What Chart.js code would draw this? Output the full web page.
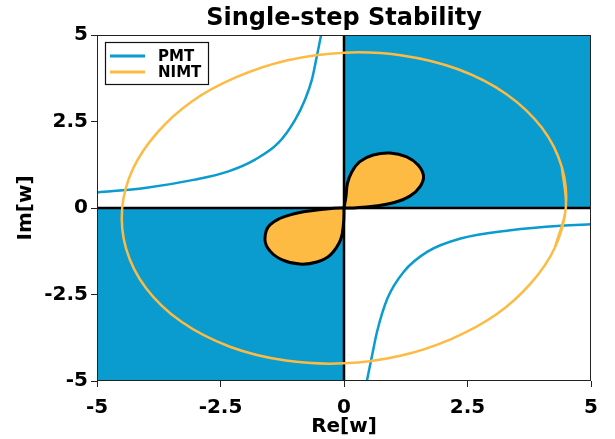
<!DOCTYPE html>
<html>
<head>
<meta charset="utf-8">
<script src="https://cdn.jsdelivr.net/npm/chart.js@4.4.1/dist/chart.umd.min.js"></script>
<style>
    body { margin: 0; background: #fff; }
    #wrap { width: 615px; height: 439px; }
</style>
</head>
<body>
<div id="wrap"><canvas id="stabilityChart" width="615" height="439"></canvas></div>
<script>
const chartTitle = 'Single-step Stability';
const tickValues = [-5, -2.5, 0, 2.5, 5];
const legendOrder = ['PMT', 'NIMT'];

// PMT boundary, two branches
const pmtUpperX = [-4.99, -4.03, -3.02, -2.34, -1.80, -1.33, -0.99, -0.79, -0.65, -0.555, -0.46];
const pmtUpperY = [0.45, 0.58, 0.82, 1.06, 1.40, 1.88, 2.55, 3.13, 3.71, 4.35, 5.02];
const pmtLowerX = [0.46, 0.57, 0.67, 0.88, 1.21, 1.69, 2.36, 3.37, 4.39, 5.03];
const pmtLowerY = [-5.02, -4.25, -3.57, -2.61, -1.84, -1.26, -0.88, -0.64, -0.51, -0.47];

// NIMT boundary (closed loop, first and last segment overlap so the seam stays smooth)
const nimtX = [4.27, 4.49, 4.41, 4.01, 3.29, 2.31, 1.18, 0.00, -1.14, -2.18, -3.08, -3.78, -4.27, -4.49, -4.41, -4.01, -3.29, -2.31, -1.18, 0.00, 1.14, 2.18, 3.08, 3.78, 4.27, 4.49, 4.41];
const nimtY = [-1.14, 0.00, 1.18, 2.31, 3.29, 4.01, 4.41, 4.49, 4.27, 3.78, 3.08, 2.18, 1.14, 0.00, -1.18, -2.31, -3.29, -4.01, -4.41, -4.49, -4.27, -3.78, -3.08, -2.18, -1.14, 0.00, 1.18];

// filled lobes
const lobeUpX = [0, 0.04, 0.07, 0.16, 0.32, 0.59, 0.93, 1.27, 1.50, 1.61, 1.54, 1.34, 1.00, 0.59, 0.26, 0];
const lobeUpY = [0, 0.33, 0.71, 1.05, 1.34, 1.53, 1.59, 1.48, 1.24, 0.92, 0.62, 0.35, 0.15, 0.05, 0.01, 0];
const lobeDownX = [0, -0.01, -0.07, -0.28, -0.55, -0.89, -1.25, -1.50, -1.60, -1.50, -1.09, -0.55, -0.20, 0];
const lobeDownY = [0, -0.44, -0.92, -1.36, -1.56, -1.62, -1.50, -1.24, -0.90, -0.49, -0.20, -0.06, -0.01, 0];

// shaded quadrants (top edge, filled to y = 0)
const quadUpX = [0, 5];
const quadUpY = [5, 5];
const quadDownX = [-5, 0];
const quadDownY = [-5, -5];

const blue = '#0a9bcf';
const orange = '#fdbb43';
const font = 'DejaVu Sans';

function pts(xs, ys) {
    return xs.map((x, i) => ({ x: x, y: ys[i] }));
}

const decorations = {
    id: 'decorations',
    afterDatasetsDraw(chart) {
        const ctx = chart.ctx;
        const area = chart.chartArea;
        ctx.save();
        // frame around the plot
        ctx.strokeStyle = '#222';
        ctx.lineWidth = 1;
        ctx.strokeRect(area.left + 0.5, area.top + 0.5, area.right - area.left - 1, area.bottom - area.top - 1);

        // title centred over the plot area
        ctx.fillStyle = '#000';
        ctx.font = 'bold 24px "' + font + '"';
        ctx.textAlign = 'center';
        ctx.textBaseline = 'alphabetic';
        ctx.fillText(chartTitle, (area.left + area.right) / 2, 25);

        // legend box
        const x = area.left + 8;
        const y = area.top + 7;
        ctx.textAlign = 'left';
        ctx.fillStyle = '#fff';
        ctx.fillRect(x, y, 104, 43);
        ctx.strokeStyle = '#111';
        ctx.lineWidth = 1.2;
        ctx.strokeRect(x + 0.5, y + 0.5, 103, 42);
        ctx.font = 'bold 15px "' + font + '"';
        ctx.textBaseline = 'middle';
        legendOrder.forEach((name, i) => {
            const d = chart.data.datasets.find(ds => ds.label === name);
            const ly = y + 14 + i * 16;
            ctx.strokeStyle = d.borderColor;
            ctx.lineWidth = 3;
            ctx.beginPath();
            ctx.moveTo(x + 5, ly);
            ctx.lineTo(x + 40, ly);
            ctx.stroke();
            ctx.fillStyle = '#000';
            ctx.fillText(name, x + 53, ly + 1);
        });
        ctx.restore();
    }
};

const lineDefaults = { pointRadius: 0, fill: false };

new Chart(document.getElementById('stabilityChart').getContext('2d'), {
    type: 'line',
    data: {
        datasets: [
            { ...lineDefaults, label: 'lobe+', data: pts(lobeUpX, lobeUpY), borderColor: '#000', borderWidth: 3, backgroundColor: orange, fill: 'shape', tension: 0.4, order: 1 },
            { ...lineDefaults, label: 'lobe-', data: pts(lobeDownX, lobeDownY), borderColor: '#000', borderWidth: 3, backgroundColor: orange, fill: 'shape', tension: 0.4, order: 1 },
            { ...lineDefaults, label: 'NIMT', data: pts(nimtX, nimtY), borderColor: orange, borderWidth: 2.5, tension: 0.35, order: 2 },
            { ...lineDefaults, label: 'PMT', data: pts(pmtUpperX, pmtUpperY), borderColor: blue, borderWidth: 2.5, cubicInterpolationMode: 'monotone', order: 3 },
            { ...lineDefaults, label: 'PMT2', data: pts(pmtLowerX, pmtLowerY), borderColor: blue, borderWidth: 2.5, cubicInterpolationMode: 'monotone', order: 3 },
            { ...lineDefaults, label: 'axisX', data: pts([-5, 5], [0, 0]), borderColor: '#000', borderWidth: 2.5, order: 4 },
            { ...lineDefaults, label: 'axisY', data: pts([0, 0], [-5, 5]), borderColor: '#000', borderWidth: 2.5, order: 4 },
            { ...lineDefaults, label: 'q1', data: pts(quadUpX, quadUpY), borderWidth: 0, backgroundColor: blue, fill: 'origin', order: 5 },
            { ...lineDefaults, label: 'q3', data: pts(quadDownX, quadDownY), borderWidth: 0, backgroundColor: blue, fill: 'origin', order: 5 }
        ]
    },
    options: {
        responsive: false,
        animation: false,
        layout: { padding: { left: 0, right: 24, top: 35, bottom: 0 } },
        plugins: {
            legend: { display: false },
            tooltip: { enabled: false },
            title: { display: false }
        },
        scales: {
            x: {
                type: 'linear',
                min: -5,
                max: 5,
                afterBuildTicks: axis => { axis.ticks = tickValues.map(v => ({ value: v })); },
                afterFit: axis => { axis.height = 58; },
                ticks: { color: '#000', padding: 9, maxRotation: 0, font: { family: font, size: 20, weight: 'bold' } },
                grid: { drawOnChartArea: false, tickLength: 6, color: '#222' },
                border: { display: false },
                title: { display: true, text: 'Re[w]', color: '#000', padding: { top: 0, bottom: 0 }, font: { family: font, size: 20, weight: 'bold', lineHeight: 1.2 } }
            },
            y: {
                type: 'linear',
                min: -5,
                max: 5,
                afterBuildTicks: axis => { axis.ticks = tickValues.map(v => ({ value: v })); },
                afterFit: axis => { axis.width = 97; },
                ticks: { color: '#000', padding: 3, font: { family: font, size: 20, weight: 'bold' } },
                grid: { drawOnChartArea: false, tickLength: 6, color: '#222' },
                border: { display: false },
                title: { display: true, text: 'Im[w]', color: '#000', padding: { top: 14, bottom: 0 }, font: { family: font, size: 20, weight: 'bold', lineHeight: 1.2 } }
            }
        }
    },
    plugins: [decorations]
});
</script>
</body>
</html>
